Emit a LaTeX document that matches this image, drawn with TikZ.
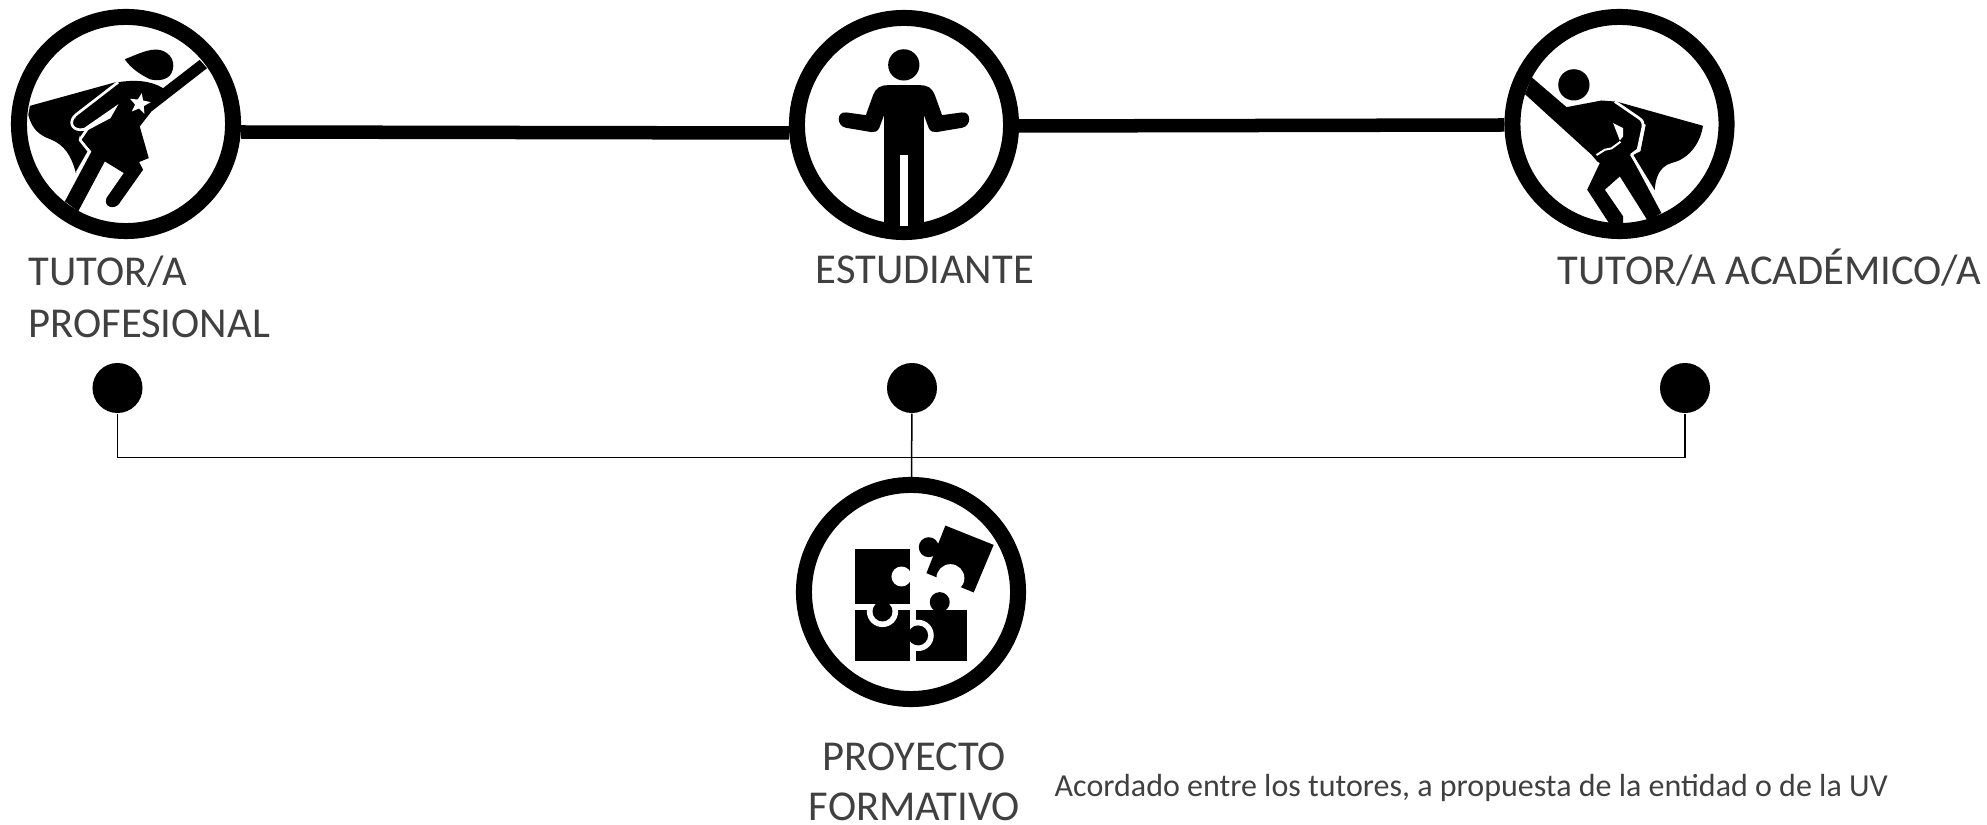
\documentclass[tikz,border=0pt]{standalone}
\usepackage{fontspec}
\setmainfont{Carlito}
\definecolor{rotulo}{RGB}{64,64,64}
\tikzset{
ring/.style={circle, draw=black, line width=0.16cm, fill=white, minimum size=2.14cm, inner sep=0pt},
punto/.style={circle, fill=black, minimum size=0.5cm, inner sep=0pt},
enlace/.style={line width=0.135cm},
fino/.style={line width=0.015cm},
filete/.style={white, line width=0.027cm, line join=round},
rotulo/.style={text=rotulo, inner sep=0pt, font=\fontsize{12.1}{14.8}\selectfont}
}
\begin{document}
\begin{tikzpicture}[x=0.01cm,y=-0.01cm]
\useasboundingbox (0,0) rectangle (1987,825);

\node [ring] (tutorprof) at (126,124) {};
\node [ring] (estudiante) at (904,125) {};
\node [ring] (tutoracad) at (1619.5,124) {};
\node [ring] (proyecto) at (911,592) {};

\draw [enlace] ([yshift=-0.08cm]tutorprof.east) -- ([yshift=-0.08cm]estudiante.west);
\draw [enlace] ([yshift=-0.01cm]estudiante.east) -- ([yshift=-0.01cm]tutoracad.west);

\node [punto] (puntoprof) at (117.5,388) {};
\node [punto] (puntoest) at (912,388) {};
\node [punto] (puntoacad) at (1685,388) {};
\coordinate (cruce) at (912,457.5);
\draw [fino] (puntoprof) |- (cruce) -| (puntoacad);
\draw [fino] (puntoest) -- (proyecto);

% superheroina
\begin{scope}[shift={(0,0)},x=0.0033333cm,y=-0.0033333cm]
\fill (375,178) .. controls (420,160) and (450,145) .. (480,150) .. controls (515,158) and (530,190) .. (515,220) .. controls (505,240) and (475,245) .. (450,238) .. controls (425,225) and (395,208) .. cycle;
\fill (90,318) -- (355,245) -- (225,345) -- (240,420) -- (268,455) -- (228,520) .. controls (215,470) and (195,435) .. (150,418) .. controls (115,405) and (95,385) .. (85,345) -- cycle;
\fill (355,247) .. controls (400,240) and (450,240) .. (490,265) -- (600,180) -- (622,205) -- (455,335) -- (420,380) -- (447,475) -- (418,487) -- (430,510) -- (358,612) .. controls (345,630) and (310,625) .. (320,595) -- (372,520) -- (315,485) -- (235,635) -- (195,605) -- (275,455) -- (243,420) -- (225,375) -- (228,345) -- cycle;
\draw [filete] (355,247) -- (228,345) .. controls (208,362) and (212,388) .. (240,390) -- (262,388) -- (240,420) -- (268,455) -- (232,518);
\fill [white] (356,313) -- (332,355) -- (264,391) -- (252,385) -- cycle;
\fill [white] (426,280) -- (430,302) -- (453,307) -- (432,319) -- (434,342) -- (418,326) -- (396,335) -- (406,314) -- (391,297) -- (414,299) -- cycle;
\end{scope}

% estudiante
\begin{scope}[shift={(780,0)},x=0.0033333cm,y=-0.0033333cm]
\fill (372,195) circle (47);
\fill (313,690) -- (313,345) -- (298,385) .. controls (293,395) and (285,398) .. (275,397) -- (198,384) .. controls (168,378) and (170,333) .. (200,338) -- (258,346) -- (280,285) .. controls (288,265) and (300,256) .. (325,256) -- (420,256) .. controls (445,256) and (457,265) .. (465,285) -- (487,346) -- (545,338) .. controls (575,333) and (577,378) .. (547,384) -- (470,397) .. controls (460,398) and (452,395) .. (447,385) -- (432,345) -- (432,690) -- cycle;
\fill [white] (360,467) rectangle (385,678);
\end{scope}

% superheroe
\begin{scope}[shift={(1490,0)},x=0.0033333cm,y=-0.0033333cm]
\fill (252,255) circle (47);
\fill (125,232) -- (230,322) -- (335,302) -- (375,305) -- (448,356) -- (458,375) -- (443,450) -- (422,466) -- (515,640) -- (475,665) -- (390,530) -- (345,570) -- (400,650) -- (400,672) -- (365,682) -- (292,570) -- (330,490) -- (322,485) -- (305,465) -- (105,283) -- cycle;
\fill (372,303) -- (640,378) .. controls (630,440) and (590,480) .. (545,490) .. controls (510,500) and (495,535) .. (495,578) -- (430,465) -- (452,455) -- (468,375) -- cycle;
\draw [filete] (375,305) -- (448,355) .. controls (458,362) and (462,370) .. (460,380) -- (445,450) -- (425,465) -- (494,578);
\fill [white] (370,370) -- (400,385) -- (400,410) -- (390,422) -- cycle;
\draw [white, line width=0.02cm] (392,426) -- (365,446) -- (345,450) -- (320,466);
\end{scope}

% piezas
\begin{scope}[shift={(780,470)},x=0.0033333cm,y=-0.0033333cm]
\fill (408,420) rectangle (563,575);
\fill (480,397) circle (30);
\fill [white] (415,497) circle (47);
\fill (225,420) rectangle (390,575);
\fill (415,497) circle (30);
\fill [white] (308,425) circle (47);
\fill (225,237) rectangle (390,403);
\fill (308,425) circle (30);
\fill [white] (365,320) circle (30);
\fill (497,167) -- (642,225) -- (582,368) -- (440,310) -- cycle;
\fill [white] (512,325) circle (42);
\fill (447,232) circle (30);
\end{scope}

\node [rotulo, anchor=north west, align=left] (txtprof) at (28,255) {TUTOR/A\\PROFESIONAL};
\node [rotulo, anchor=north west] (txtest) at (815,255) {ESTUDIANTE};
\node [rotulo, anchor=north west] (txtacad) at (1557,248) {TUTOR/A ACADÉMICO/A};
\node [rotulo, anchor=north, align=center, font=\fontsize{12.1}{14.2}\selectfont] (txtproy) at (914.5,742) {PROYECTO\\FORMATIVO};
\node [rotulo, anchor=north west, font=\fontsize{9.1}{11}\selectfont] (txtacuerdo) at (1054,774) {Acordado entre los tutores, a propuesta de la entidad o de la UV};

\end{tikzpicture}
\end{document}
